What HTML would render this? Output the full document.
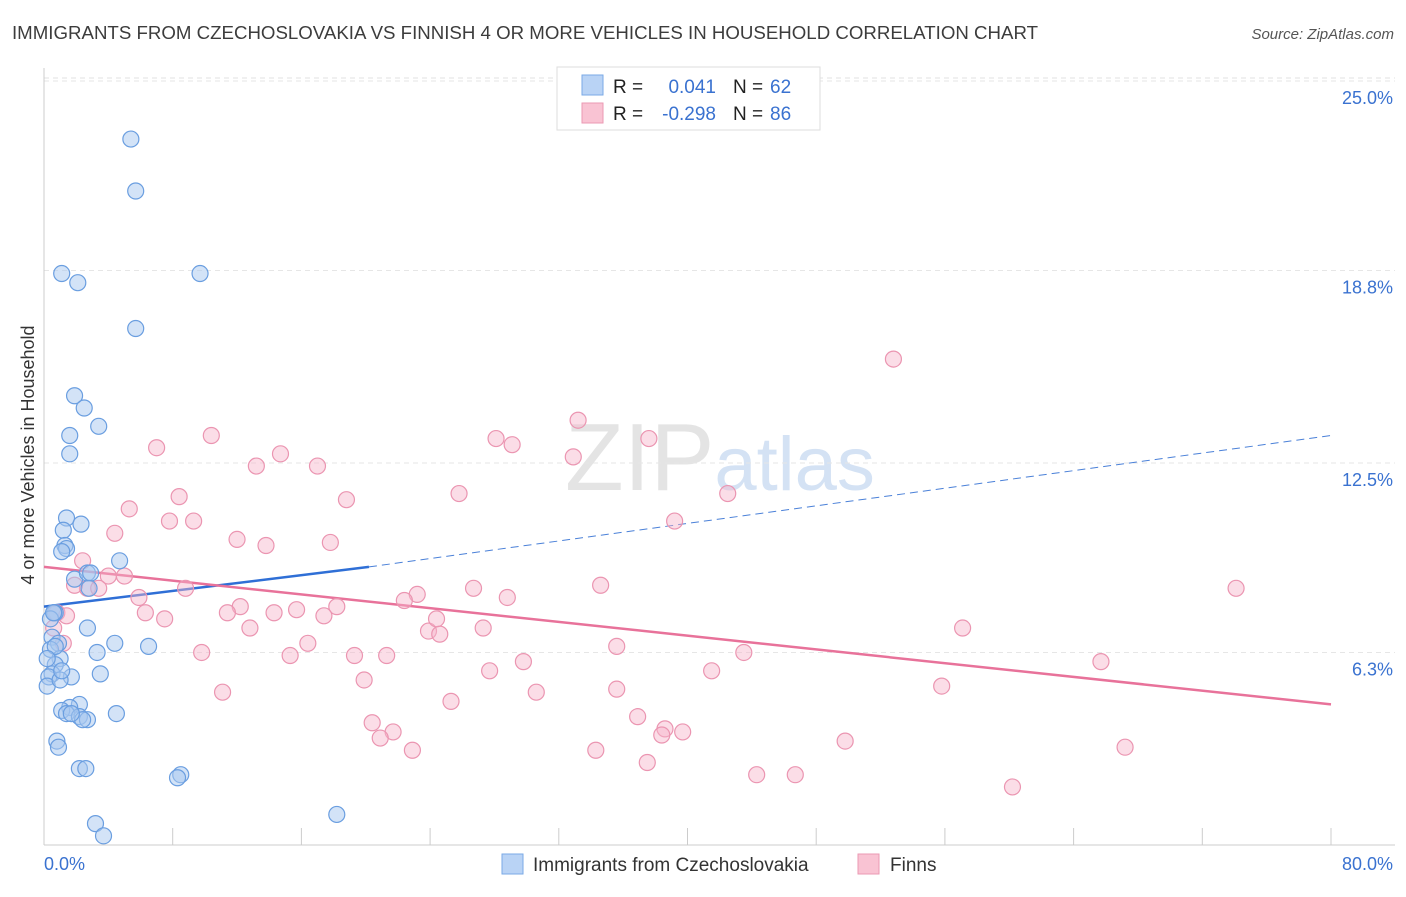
<!DOCTYPE html>
<html><head><meta charset="utf-8"><style>
body{margin:0;background:#fff;font-family:"Liberation Sans",sans-serif;}
svg text{font-family:"Liberation Sans",sans-serif;}
</style></head><body>
<svg id="chart" width="1406" height="892" xmlns="http://www.w3.org/2000/svg">
<text x="12" y="39" font-size="18" fill="#3c3c3c" textLength="1026" lengthAdjust="spacingAndGlyphs">IMMIGRANTS FROM CZECHOSLOVAKIA VS FINNISH 4 OR MORE VEHICLES IN HOUSEHOLD CORRELATION CHART</text>
<text x="1394" y="39" font-size="15" fill="#555" text-anchor="end" font-style="italic">Source: ZipAtlas.com</text>
<text x="720" y="490" font-size="96" text-anchor="middle" fill="#e4e4e4" font-family="Liberation Serif">ZIP<tspan fill="#d4e2f4" font-family="Liberation Sans" font-size="76">atlas</tspan></text>
<g id="grid"></g>
<g id="axes"></g>
<g id="trends"></g>
<g id="points"></g>
<text transform="translate(34,455) rotate(-90)" font-size="18" fill="#333" text-anchor="middle">4 or more Vehicles in Household</text>
<g>
<rect x="557" y="67" width="263" height="63" fill="#fff" stroke="#ddd"/>
<rect x="582" y="75" width="21" height="20" fill="#b9d3f5" stroke="#7aa9e6"/>
<rect x="582" y="103" width="21" height="20" fill="#f9c3d3" stroke="#eb9ab3"/>
<text x="613" y="93" font-size="19" fill="#222">R =</text><text x="716" y="93" font-size="19" fill="#3a72d0" text-anchor="end">0.041</text>
<text x="733" y="93" font-size="19" fill="#222">N =</text><text x="770" y="93" font-size="19" fill="#3a72d0">62</text>
<text x="613" y="120" font-size="19" fill="#222">R =</text><text x="716" y="120" font-size="19" fill="#3a72d0" text-anchor="end">-0.298</text>
<text x="733" y="120" font-size="19" fill="#222">N =</text><text x="770" y="120" font-size="19" fill="#3a72d0">86</text>
</g>
<g>
<rect x="502" y="854" width="21" height="20" fill="#b9d3f5" stroke="#7aa9e6"/>
<text x="533" y="871" font-size="19" fill="#333">Immigrants from Czechoslovakia</text>
<rect x="858" y="854" width="21" height="20" fill="#f9c3d3" stroke="#eb9ab3"/>
<text x="890" y="871" font-size="19" fill="#333">Finns</text>
</g>
</svg>
<script>
const yTicks=[6.3,12.5,18.8,25.0];
const yTickLabels=["6.3%","12.5%","18.8%","25.0%"];
const xLabels=["0.0%","80.0%"];
const blueX=[5.4,5.7,1.1,2.1,9.7,5.7,1.9,2.5,3.4,1.6,1.6,1.4,2.3,1.2,1.3,1.4,1.1,4.7,1.9,2.7,2.9,2.8,0.7,0.6,2.7,0.5,0.9,4.4,0.4,6.5,3.3,1.0,0.7,0.5,0.3,1.7,3.5,0.2,1.0,2.2,1.6,1.1,1.4,4.5,2.2,2.7,2.4,0.8,0.9,2.2,2.6,8.5,8.3,3.2,3.7,18.2,0.4,0.7,0.2,1.1,1.7,0.6];
const blueY=[23.1,21.4,18.7,18.4,18.7,16.9,14.7,14.3,13.7,13.4,12.8,10.7,10.5,10.3,9.8,9.7,9.6,9.3,8.7,8.9,8.9,8.4,7.6,7.6,7.1,6.8,6.6,6.6,6.4,6.5,6.3,6.1,5.9,5.6,5.5,5.5,5.6,5.2,5.4,4.6,4.5,4.4,4.3,4.3,4.2,4.1,4.1,3.4,3.2,2.5,2.5,2.3,2.2,0.7,0.3,1.0,7.4,6.5,6.1,5.7,4.3,7.6];
const pinkX=[52.8,33.2,37.6,28.1,29.1,10.4,7.0,32.9,14.7,13.2,17.0,42.5,25.8,8.4,18.8,5.3,4.4,7.8,9.3,39.2,12.0,13.8,17.8,2.4,4.0,5.0,8.8,34.6,26.7,2.7,3.4,23.2,74.1,5.9,1.9,28.8,22.4,12.2,0.8,1.4,6.3,7.5,11.4,14.3,15.7,18.2,17.4,12.8,27.3,23.9,24.6,57.1,24.4,16.4,35.6,9.8,15.3,19.3,21.3,43.5,29.8,65.7,27.7,19.9,41.5,11.1,55.8,35.6,30.6,25.3,36.9,20.4,21.7,38.6,39.7,38.4,20.9,22.9,49.8,34.3,67.2,37.5,44.3,46.7,60.2,0.6,1.2];
const pinkY=[15.9,13.9,13.3,13.3,13.1,13.4,13.0,12.7,12.8,12.4,12.4,11.5,11.5,11.4,11.3,11.0,10.2,10.6,10.6,10.6,10.0,9.8,9.9,9.3,8.8,8.8,8.4,8.5,8.4,8.4,8.4,8.2,8.4,8.1,8.5,8.1,8.0,7.8,7.6,7.5,7.6,7.4,7.6,7.6,7.7,7.8,7.5,7.1,7.1,7.0,6.9,7.1,7.4,6.6,6.5,6.3,6.2,6.2,6.2,6.3,6.0,6.0,5.7,5.4,5.7,5.0,5.2,5.1,5.0,4.7,4.2,4.0,3.7,3.8,3.7,3.6,3.5,3.1,3.4,3.1,3.2,2.7,2.3,2.3,1.9,7.1,6.6];
const blueTrendX=[0,20.2,80];
const blueTrendY=[7.8,9.1,13.4];
const pinkTrendX=[0,80];
const pinkTrendY=[9.1,4.6];
const NS="http://www.w3.org/2000/svg";
const sx=v=>44+v/80*1287;
const sy=v=>845-v/25*764;
function mk(tag,attrs,parent){const e=document.createElementNS(NS,tag);for(const k in attrs)e.setAttribute(k,attrs[k]);document.getElementById(parent).appendChild(e);return e;}
let g=mk('line',{x1:44,x2:1395,y1:78,y2:78,stroke:'#e2e2e2','stroke-dasharray':'5,4'},'grid');


yTicks.forEach((t,i)=>{
 const l=mk('line',{x1:44,x2:1395,y1:sy(t),y2:sy(t),stroke:'#e6e6e6','stroke-dasharray':'5,4'},'grid');
 
 
 const tx=mk('text',{x:1393,y:sy(t)+23,'font-size':18,fill:'#3a72d0','text-anchor':'end'},'grid');
 
 
 tx.textContent=yTickLabels[i];
});
let ax=mk('line',{x1:44,x2:44,y1:68,y2:845,stroke:'#ccc'},'axes');


let bx=mk('line',{x1:44,x2:1395,y1:845,y2:845,stroke:'#ccc'},'axes');


for(let i=0;i<=10;i++){const t=mk('line',{x1:sx(i*8),x2:sx(i*8),y1:828,y2:845,stroke:'#ccc'},'axes');
 
 }
[[0,'start',xLabels[0]],[80,'end',xLabels[1]]].forEach(a=>{const t=mk('text',{x:a[0]==0?44:1393,y:870,'font-size':18,fill:'#3a72d0','text-anchor':a[1]},'axes');
 
 
 t.textContent=a[2];});
let bl=mk('line',{x1:sx(blueTrendX[0]),y1:sy(blueTrendY[0]),x2:sx(blueTrendX[1]),y2:sy(blueTrendY[1]),stroke:'#2f6fd6','stroke-width':2.5},'trends');


let bd=mk('line',{x1:sx(blueTrendX[1]),y1:sy(blueTrendY[1]),x2:sx(blueTrendX[2]),y2:sy(blueTrendY[2]),stroke:'#4a80d8','stroke-width':1,'stroke-dasharray':'8,5'},'trends');


let pl=mk('line',{x1:sx(pinkTrendX[0]),y1:sy(pinkTrendY[0]),x2:sx(pinkTrendX[1]),y2:sy(pinkTrendY[1]),stroke:'#e8729a','stroke-width':2.5},'trends');


pinkX.forEach((x,i)=>{const c=mk('circle',{cx:sx(x),cy:sy(pinkY[i]),r:8,fill:'rgba(246,180,202,0.45)',stroke:'#eb95b1','stroke-width':1.2},'points');
 
 });
blueX.forEach((x,i)=>{const c=mk('circle',{cx:sx(x),cy:sy(blueY[i]),r:8,fill:'rgba(168,200,240,0.5)',stroke:'#6a9ee0','stroke-width':1.2},'points');
 
 });
</script>
</body></html>
